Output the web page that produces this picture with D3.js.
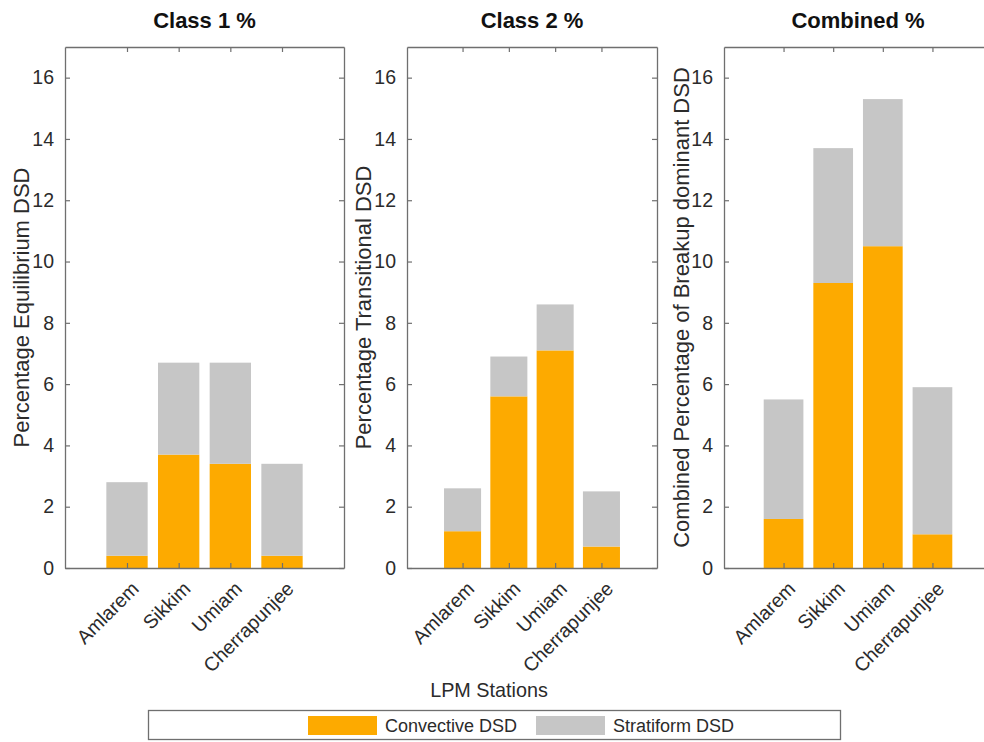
<!DOCTYPE html>
<html>
<head>
<meta charset="utf-8">
<script src="https://cdn.jsdelivr.net/npm/d3@7"></script>
<style>
  html, body { margin: 0; padding: 0; background: #fff; }
  svg { display: block; font-family: "Liberation Sans", Arial, Helvetica, sans-serif; }
</style>
</head>
<body>
<svg id="chart" width="984" height="742"></svg>
<script>
// Station categories and stacked percentages (convective at bottom, stratiform on top)
const stations = ["Amlarem", "Sikkim", "Umiam", "Cherrapunjee"];

const class1Convective = [0.4, 3.7, 3.4, 0.4];
const class1Stratiform = [2.4, 3.0, 3.3, 3.0];

const class2Convective = [1.2, 5.6, 7.1, 0.7];
const class2Stratiform = [1.4, 1.3, 1.5, 1.8];

const combinedConvective = [1.6, 9.3, 10.5, 1.1];
const combinedStratiform = [3.9, 4.4, 4.8, 4.8];

const yTicks = [0, 2, 4, 6, 8, 10, 12, 14, 16];
const seriesNames = ["Convective DSD", "Stratiform DSD"];
const seriesKeys = ["convective", "stratiform"];

const panelTitles = ["Class 1 %", "Class 2 %", "Combined %"];
const panelYLabels = [
  "Percentage Equilibrium DSD",
  "Percentage Transitional DSD",
  "Combined Percentage of Breakup dominant DSD"
];
const panelSeries = [
  [class1Convective, class1Stratiform],
  [class2Convective, class2Stratiform],
  [combinedConvective, combinedStratiform]
];

// Layout
const colors = { convective: "#fdaa00", stratiform: "#c6c6c6" };
const axisColor = "#6f6f6f";
const textColor = "#2b2b2b";
const plotTop = 47, plotBottom = 568;
const panelX = [[65, 344], [407, 657], [724, 992]];
const labelX = [29, 371, 689];
const tickLen = 5;
const tickFont = 19.5, labelFont = 22;

const svg = d3.select("#chart");
const y = d3.scaleLinear().domain([0, 17]).range([plotBottom, plotTop]);

panelSeries.forEach((series, p) => {
  const [x0, x1] = panelX[p];
  const x = d3.scaleLinear().domain([-0.2, 5.2]).range([x0, x1]);
  const barW = (x(1) - x(0)) * 0.8;

  const rows = stations.map((s, i) => ({
    station: s, pos: i + 1,
    convective: series[0][i], stratiform: series[1][i]
  }));
  const stacked = d3.stack().keys(seriesKeys)(rows);

  const g = svg.append("g");

  // Stacked bars
  stacked.forEach(layer => {
    g.append("g").selectAll("rect").data(layer).join("rect")
      .attr("x", d => x(d.data.pos) - barW / 2)
      .attr("width", barW)
      .attr("y", d => y(d[1]))
      .attr("height", d => y(d[0]) - y(d[1]))
      .attr("fill", colors[layer.key]);
  });

  // Box axes with inward ticks
  const axisStyle = sel => {
    sel.selectAll("path.domain").attr("stroke", axisColor).attr("stroke-width", 1.3);
    sel.selectAll(".tick line").attr("stroke", axisColor).attr("stroke-width", 1.2);
    sel.selectAll(".tick text").attr("fill", textColor).attr("font-size", tickFont)
      .attr("font-family", "Liberation Sans, Arial, sans-serif");
  };

  const leftAxis = g.append("g").attr("transform", `translate(${x0},0)`)
    .call(d3.axisLeft(y).tickValues(yTicks).tickFormat(d3.format("d"))
      .tickSizeInner(-tickLen).tickSizeOuter(0).tickPadding(6 + tickLen));
  axisStyle(leftAxis);

  const rightAxis = g.append("g").attr("transform", `translate(${x1},0)`)
    .call(d3.axisRight(y).tickValues(yTicks).tickFormat("")
      .tickSizeInner(-tickLen).tickSizeOuter(0));
  axisStyle(rightAxis);

  const bottomAxis = g.append("g").attr("transform", `translate(0,${plotBottom})`)
    .call(d3.axisBottom(x).tickValues([1, 2, 3, 4]).tickFormat("")
      .tickSizeInner(-tickLen).tickSizeOuter(0));
  axisStyle(bottomAxis);

  const topAxis = g.append("g").attr("transform", `translate(0,${plotTop})`)
    .call(d3.axisTop(x).tickValues([1, 2, 3, 4]).tickFormat("")
      .tickSizeInner(-tickLen).tickSizeOuter(0));
  axisStyle(topAxis);

  // Rotated station labels
  g.append("g").selectAll("text").data(rows).join("text")
    .attr("transform", d => `translate(${x(d.pos) + 13},${plotBottom + 22}) rotate(-45)`)
    .attr("text-anchor", "end")
    .attr("fill", textColor)
    .attr("font-size", tickFont)
    .text(d => d.station);

  // Title
  g.append("text")
    .attr("x", (x0 + x1) / 2).attr("y", 28)
    .attr("text-anchor", "middle")
    .attr("font-weight", "bold")
    .attr("font-size", labelFont)
    .attr("fill", "#111")
    .text(panelTitles[p]);

  // Y label
  g.append("text")
    .attr("transform", `translate(${labelX[p]},${(plotTop + plotBottom) / 2}) rotate(-90)`)
    .attr("text-anchor", "middle")
    .attr("font-size", labelFont)
    .attr("fill", textColor)
    .text(panelYLabels[p]);
});

// Shared x label
svg.append("text")
  .attr("x", 489).attr("y", 697)
  .attr("text-anchor", "middle")
  .attr("font-size", 19.8)
  .attr("fill", textColor)
  .text("LPM Stations");

// Legend
const legend = svg.append("g");
legend.append("rect")
  .attr("x", 148.5).attr("y", 710.5).attr("width", 692).attr("height", 29)
  .attr("fill", "#fff").attr("stroke", axisColor).attr("stroke-width", 1.3);

const legendItems = [
  { key: "convective", name: seriesNames[0], px: 308, tx: 385 },
  { key: "stratiform", name: seriesNames[1], px: 536, tx: 613 }
];
legendItems.forEach(it => {
  legend.append("rect")
    .attr("x", it.px).attr("y", 716).attr("width", 69).attr("height", 19)
    .attr("fill", colors[it.key]);
  legend.append("text")
    .attr("x", it.tx).attr("y", 732)
    .attr("font-size", 18)
    .attr("fill", textColor)
    .text(it.name);
});
</script>
</body>
</html>
